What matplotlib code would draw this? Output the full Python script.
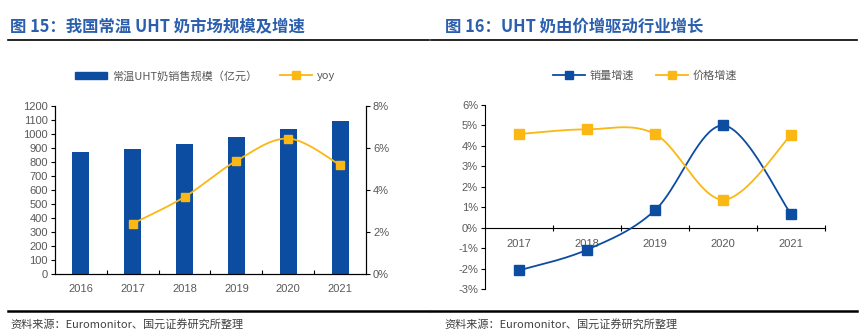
import numpy as np
import matplotlib.pyplot as plt
from matplotlib.lines import Line2D
from matplotlib.patches import Patch
from matplotlib.ticker import FuncFormatter

plt.rcParams['font.family'] = ['Liberation Sans', 'Noto Sans CJK SC', 'DejaVu Sans']

# data, chart 15
years_l = ['2016', '2017', '2018', '2019', '2020', '2021']
sales = [873, 894, 927, 977, 1039, 1096]
yoy_years = ['2017', '2018', '2019', '2020', '2021']
yoy = [2.40, 3.67, 5.39, 6.45, 5.19]

# data, chart 16
years_r = ['2017', '2018', '2019', '2020', '2021']
vol_growth = [-2.09, -1.08, 0.85, 5.00, 0.67]
price_growth = [4.58, 4.81, 4.58, 1.37, 4.53]

BLUE = '#0C4DA2'
ORANGE = '#FBB714'
TITLE = '#2B5FAE'
GREY = '#595959'
CJK = ['Noto Sans CJK SC', 'DejaVu Sans']


def smooth(x, y, n=40):
    # catmull-rom curve, similar to the smoothed line of the source
    x = np.asarray(x, float)
    y = np.asarray(y, float)
    px = np.concatenate(([x[0]], x, [x[-1]]))
    py = np.concatenate(([y[0]], y, [y[-1]]))
    xs, ys = [], []
    t = np.linspace(0, 1, n)
    for i in range(1, len(px) - 2):
        for p, out in ((px, xs), (py, ys)):
            p0, p1, p2, p3 = p[i - 1], p[i], p[i + 1], p[i + 2]
            out.extend(0.5 * (2 * p1 + (-p0 + p2) * t
                              + (2 * p0 - 5 * p1 + 4 * p2 - p3) * t ** 2
                              + (-p0 + 3 * p1 - 3 * p2 + p3) * t ** 3))
    return np.array(xs), np.array(ys)


W, H = 865, 336
fig = plt.figure(figsize=(W / 100, H / 100), dpi=100)


def fx(px):
    return px / W


def fy(py):
    return 1 - py / H


# titles and rules
fig.text(fx(10), fy(27), '图 15：我国常温 UHT 奶市场规模及增速', family=CJK,
         fontsize=11.8, fontweight='bold', color=TITLE, va='center')
fig.text(fx(445), fy(27), '图 16：UHT 奶由价增驱动行业增长', family=CJK,
         fontsize=11.8, fontweight='bold', color=TITLE, va='center')
for x0, x1 in ((8, 429), (431, 857)):
    fig.add_artist(Line2D([fx(x0), fx(x1)], [fy(40), fy(40)], color='black', lw=1.2))
    fig.add_artist(Line2D([fx(x0), fx(x1)], [fy(311), fy(311)], color='black', lw=1.8))
fig.text(fx(10), fy(324), '资料来源：Euromonitor、国元证券研究所整理', family=CJK,
         fontsize=8, color='#404040', va='center')
fig.text(fx(444), fy(324), '资料来源：Euromonitor、国元证券研究所整理', family=CJK,
         fontsize=8, color='#404040', va='center')

# ---- chart 15 ----
ax1 = fig.add_axes([fx(55), fy(274), fx(366 - 55), (274 - 106) / H])
xl = np.arange(len(years_l))
ax1.bar(xl, sales, width=0.33, color=BLUE, zorder=2)
ax1.set_xlim(-0.5, len(years_l) - 0.5)
ax1.set_ylim(0, 1200)
ax1.set_yticks(range(0, 1201, 100))
ax1.set_xticks(np.arange(0.5, len(years_l) - 1, 1))
ax1.set_xticklabels([])
ax1.set_xticks(xl, minor=True)
ax1.set_xticklabels(years_l, minor=True)
ax1.tick_params(axis='x', which='major', direction='in', length=3, width=0.8)
ax1.tick_params(axis='x', which='minor', length=0, pad=7, labelsize=8, labelcolor=GREY)
ax1.tick_params(axis='y', direction='out', length=3, width=0.8, pad=2,
                labelsize=8, labelcolor=GREY)
ax1.spines['top'].set_visible(False)

ax1b = ax1.twinx()
xy = [years_l.index(y) for y in yoy_years]
sx, sy = smooth(xy, yoy)
ax1b.plot(sx, sy, color=ORANGE, lw=1.3, zorder=3)
ax1b.plot(xy, yoy, ls='none', marker='s', ms=6.3, color=ORANGE, zorder=4)
ax1b.set_ylim(0, 8)
ax1b.set_yticks(range(0, 9, 2))
ax1b.yaxis.set_major_formatter(FuncFormatter(lambda v, p: f'{v:.0f}%'))
ax1b.tick_params(axis='y', direction='out', length=3, width=0.8, pad=2,
                 labelsize=8, labelcolor=GREY)
ax1b.spines['top'].set_visible(False)

h1 = [Patch(color=BLUE), Line2D([], [], color=ORANGE, lw=1.3, marker='s', ms=6)]
fig.legend(h1, ['常温UHT奶销售规模（亿元）', 'yoy'], loc='center',
           bbox_to_anchor=(fx(205), fy(76)), ncol=2, frameon=False,
           prop={'family': CJK, 'size': 8}, labelcolor=GREY,
           handlelength=2.9, handletextpad=0.45, columnspacing=2.0)

# ---- chart 16 ----
ax2 = fig.add_axes([fx(485), fy(289), fx(825 - 485), (289 - 105) / H])
xr = np.arange(len(years_r))
sx, sy = smooth(xr, vol_growth)
ax2.plot(sx, sy, color=BLUE, lw=1.3, zorder=3)
ax2.plot(xr, vol_growth, ls='none', marker='s', ms=6.5, color=BLUE, zorder=4)
sx, sy = smooth(xr, price_growth)
ax2.plot(sx, sy, color=ORANGE, lw=1.3, zorder=3)
ax2.plot(xr, price_growth, ls='none', marker='s', ms=6.5, color=ORANGE, zorder=4)
ax2.set_xlim(-0.5, len(years_r) - 0.5)
ax2.set_ylim(-3, 6)
ax2.set_yticks(range(-3, 7))
ax2.yaxis.set_major_formatter(FuncFormatter(lambda v, p: f'{v:.0f}%'))
ax2.spines['bottom'].set_position(('data', 0))
ax2.spines['top'].set_visible(False)
ax2.spines['right'].set_visible(False)
ax2.set_xticks(np.arange(0.5, len(years_r), 1))
ax2.set_xticklabels([])
ax2.set_xticks(xr, minor=True)
ax2.set_xticklabels(years_r, minor=True)
ax2.tick_params(axis='x', which='major', direction='inout', length=5, width=0.8)
ax2.tick_params(axis='x', which='minor', length=0, pad=8, labelsize=8, labelcolor=GREY)
ax2.tick_params(axis='y', direction='out', length=3, width=0.8, pad=2,
                labelsize=8, labelcolor=GREY)

h2 = [Line2D([], [], color=BLUE, lw=1.3, marker='s', ms=6),
      Line2D([], [], color=ORANGE, lw=1.3, marker='s', ms=6)]
fig.legend(h2, ['销量增速', '价格增速'], loc='center',
           bbox_to_anchor=(fx(645), fy(76)), ncol=2, frameon=False,
           prop={'family': CJK, 'size': 8}, labelcolor=GREY,
           handlelength=2.9, handletextpad=0.45, columnspacing=1.9)

fig.savefig('out.png', dpi=100)
